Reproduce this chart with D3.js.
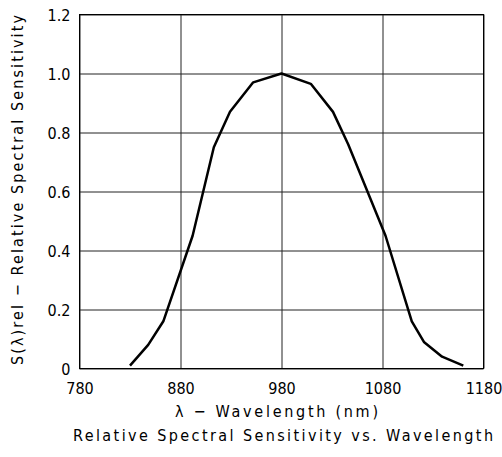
<!DOCTYPE html>
<html>
<head>
<meta charset="utf-8">
<script src="https://cdn.jsdelivr.net/npm/d3@7"></script>
<style>
  body { margin: 0; background: #fff; }
  text { font-family: "Liberation Sans Narrow", "Arial Narrow", "DejaVu Sans Condensed", sans-serif; fill: #000; }
</style>
</head>
<body>
<svg id="chart"></svg>
<script>
// values
const wavelength = [830, 848, 863, 892, 913, 929, 952, 980, 1009, 1031, 1046, 1083, 1109, 1121, 1139, 1160];
const sensitivity = [0.01, 0.08, 0.16, 0.45, 0.75, 0.87, 0.97, 1.0, 0.965, 0.87, 0.76, 0.45, 0.16, 0.09, 0.04, 0.01];
const xTicks = [780, 880, 980, 1080, 1180];
const yTicks = [0, 0.2, 0.4, 0.6, 0.8, 1.0, 1.2];
const xTitle = "\u03bb \u2212 Wavelength (nm)";
const yTitle = "S(\u03bb)rel \u2212 Relative Spectral Sensitivity";
const chartTitle = "Relative Spectral Sensitivity vs. Wavelength";

const width = 502, height = 457;
const margin = {top: 14, right: 19, bottom: 89, left: 79};
const w = width - margin.left - margin.right;
const h = height - margin.top - margin.bottom;

const svg = d3.select('#chart')
    .attr('width', width)
    .attr('height', height);

const chart = svg.append('g')
    .attr('transform', `translate(${margin.left + 0.5}, ${margin.top + 0.5})`);

const xScale = d3.scaleLinear().domain([780, 1180]).range([0, w]);
const yScale = d3.scaleLinear().domain([0, 1.2]).range([h, 0]);

// grid + labels via axes
const xAxis = d3.axisBottom(xScale)
    .tickValues(xTicks)
    .tickSize(-h)
    .tickPadding(14)
    .tickFormat(d3.format('d'));

const yAxis = d3.axisLeft(yScale)
    .tickValues(yTicks)
    .tickSize(-w)
    .tickPadding(9)
    .tickFormat(d => d === 0 ? '0' : d3.format('.1f')(d));

const gx = chart.append('g')
    .attr('transform', `translate(0, ${h})`)
    .call(xAxis);
const gy = chart.append('g').call(yAxis);

[gx, gy].forEach(g => {
    g.select('.domain').remove();
    g.selectAll('line').attr('stroke', '#222').attr('stroke-width', 1);
    g.selectAll('text').style('font-size', '16px').attr('fill', '#000');
});
gx.selectAll('text').attr('dy', '0.71em');
gy.selectAll('text').attr('dy', '0.36em');

// frame
chart.append('rect')
    .attr('width', w)
    .attr('height', h)
    .attr('fill', 'none')
    .attr('stroke', '#000')
    .attr('stroke-width', 1);

// the curve
const points = wavelength.map((d, i) => [d, sensitivity[i]]);
chart.append('path')
    .datum(points)
    .attr('fill', 'none')
    .attr('stroke', '#000')
    .attr('stroke-width', 2.5)
    .attr('stroke-linejoin', 'round')
    .attr('d', d3.line().x(d => xScale(d[0])).y(d => yScale(d[1])));

// titles
svg.append('text')
    .attr('x', 276.5)
    .attr('y', 417)
    .attr('text-anchor', 'middle')
    .attr('textLength', 203)
    .style('font-size', '16px')
    .text(xTitle);

svg.append('text')
    .attr('x', 283)
    .attr('y', 441)
    .attr('text-anchor', 'middle')
    .attr('textLength', 420)
    .style('font-size', '16px')
    .text(chartTitle);

svg.append('text')
    .attr('transform', 'translate(23, 190) rotate(-90)')
    .attr('text-anchor', 'middle')
    .attr('textLength', 350)
    .style('font-size', '16px')
    .text(yTitle);
</script>
</body>
</html>
